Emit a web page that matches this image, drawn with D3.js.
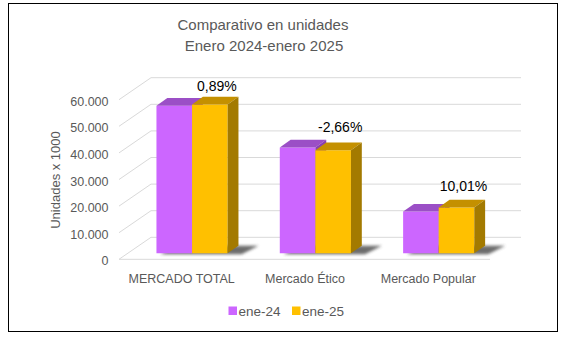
<!DOCTYPE html>
<html>
<head>
<meta charset="utf-8">
<script src="https://cdn.jsdelivr.net/npm/d3@7"></script>
<style>
  body { margin: 0; background: #fff; }
  svg { display: block; }
  text { font-family: "Liberation Sans", Arial, sans-serif; }
</style>
</head>
<body>
<svg id="chart" width="565" height="339"></svg>
<script>
// data
var categories = ["MERCADO TOTAL", "Mercado Ético", "Mercado Popular"];
var seriesNames = ["ene-24", "ene-25"];
var values2024 = [55500, 39800, 15700];
var values2025 = [56000, 38740, 17270];
var changeLabels = ["0,89%", "-2,66%", "10,01%"];
var yTicks = [0, 10000, 20000, 30000, 40000, 50000, 60000];

var colors = {
    "ene-24": { front: "#cc66ff", top: "#9b4fc6", side: "#8a40b2" },
    "ene-25": { front: "#ffc000", top: "#c49000", side: "#a37a00" }
};

var svg = d3.select("#chart");

// plot box (front plane) and 3d depth offset
var left = 120, right = 490, floorY = 259.3, topY = 99.7;
var depthX = 31, depthY = 22;
var zFront = 0.27, zBack = 0.62;
var barShift = 2;

var x0 = d3.scaleBand()
    .domain(categories)
    .range([left, right])
    .paddingInner(0.423)
    .paddingOuter(0.2115);
var x1 = d3.scaleBand()
    .domain(seriesNames)
    .range([0, x0.bandwidth()]);
var y = d3.scaleLinear()
    .domain([0, 60000])
    .range([floorY, topY]);

// project a point at depth z (0 front, 1 back)
function px(xv, z) { return xv + z * depthX; }
function py(yv, z) { return yv - z * depthY; }

var fmt = d3.format(",");
var tickFmt = function (d) { return fmt(d).replace(/,/g, "."); };

// outer border
svg.append("rect")
    .attr("x", 8.5).attr("y", 3.5)
    .attr("width", 549).attr("height", 328)
    .attr("fill", "#fff")
    .attr("stroke", "#000")
    .attr("stroke-width", 1);

// title
var title = svg.append("text")
    .attr("text-anchor", "middle")
    .attr("fill", "#595959")
    .style("font-size", "15px");
title.append("tspan").attr("x", 263).attr("y", 30).text("Comparativo en unidades");
title.append("tspan").attr("x", 264).attr("y", 51).text("Enero 2024-enero 2025");

// back wall gridlines and side wall diagonals
var grid = svg.append("g").attr("stroke", "#d9d9d9").attr("stroke-width", 1).attr("fill", "none");
grid.selectAll(".back")
    .data(yTicks)
    .enter()
    .append("line")
    .attr("x1", px(left, 1)).attr("x2", px(right, 1))
    .attr("y1", function (d) { return py(y(d), 1); })
    .attr("y2", function (d) { return py(y(d), 1); });
grid.selectAll(".side")
    .data(yTicks)
    .enter()
    .append("line")
    .attr("x1", left - 1).attr("x2", px(left, 1))
    .attr("y1", function (d) { return y(d); })
    .attr("y2", function (d) { return py(y(d), 1); });
// front floor edge
grid.append("line")
    .attr("x1", left - 1).attr("x2", right)
    .attr("y1", floorY).attr("y2", floorY);

// y tick labels
svg.append("g")
    .selectAll("text")
    .data(yTicks)
    .enter()
    .append("text")
    .attr("x", 108.5)
    .attr("y", function (d) { return y(d) + 6; })
    .attr("text-anchor", "end")
    .attr("fill", "#595959")
    .style("font-size", "12.5px")
    .text(tickFmt);

// y axis title
svg.append("text")
    .attr("transform", "translate(59.5,180) rotate(-90)")
    .attr("text-anchor", "middle")
    .attr("fill", "#595959")
    .style("font-size", "13px")
    .text("Unidades x 1000");

// category labels
svg.append("g")
    .selectAll("text")
    .data(categories)
    .enter()
    .append("text")
    .attr("x", function (d) { return x0(d) + x0.bandwidth() / 2; })
    .attr("y", 282.5)
    .attr("text-anchor", "middle")
    .attr("fill", "#595959")
    .style("font-size", "12.5px")
    .text(function (d) { return d; });

// shadow filter
var defs = svg.append("defs");
defs.append("filter").attr("id", "blur")
    .attr("x", "-20%").attr("y", "-50%").attr("width", "140%").attr("height", "200%")
    .append("feGaussianBlur").attr("stdDeviation", 1.6);

var rows = categories.map(function (c, i) {
    return { cat: c, vals: [values2024[i], values2025[i]], label: changeLabels[i] };
});

// shadows under each pair
svg.append("g")
    .selectAll("polygon")
    .data(rows)
    .enter()
    .append("polygon")
    .attr("fill", "#3a3a3a")
    .attr("opacity", 0.75)
    .attr("filter", "url(#blur)")
    .attr("points", function (d) {
        var xa = x0(d.cat) + barShift + 4, xb = x0(d.cat) + barShift + x0.bandwidth() + 14;
        var z0 = zFront, z1 = zBack;
        return [
            [px(xa, z0), py(floorY, z0) + 1],
            [px(xb, z0), py(floorY, z0) + 1],
            [px(xb + 6, z1), py(floorY, z1)],
            [px(xa + 6, z1), py(floorY, z1)]
        ].join(" ");
    });

// bars: front, top, side faces
var bars = [];
rows.forEach(function (r) {
    seriesNames.forEach(function (s, j) {
        bars.push({ cat: r.cat, series: s, value: r.vals[j] });
    });
});

var barG = svg.append("g")
    .selectAll("g")
    .data(bars)
    .enter()
    .append("g");

function xa(d) { return x0(d.cat) + x1(d.series) + barShift; }
function xb(d) { return xa(d) + x1.bandwidth(); }

barG.append("polygon")
    .attr("fill", function (d) { return colors[d.series].front; })
    .attr("points", function (d) {
        return [
            [px(xa(d), zFront), py(y(d.value), zFront)],
            [px(xb(d), zFront), py(y(d.value), zFront)],
            [px(xb(d), zFront), py(y(0), zFront)],
            [px(xa(d), zFront), py(y(0), zFront)]
        ].join(" ");
    });
barG.append("polygon")
    .attr("fill", function (d) { return colors[d.series].top; })
    .attr("points", function (d) {
        return [
            [px(xa(d), zFront), py(y(d.value), zFront)],
            [px(xb(d), zFront), py(y(d.value), zFront)],
            [px(xb(d), zBack), py(y(d.value), zBack)],
            [px(xa(d), zBack), py(y(d.value), zBack)]
        ].join(" ");
    });
barG.append("polygon")
    .attr("fill", function (d) { return colors[d.series].side; })
    .attr("points", function (d) {
        return [
            [px(xb(d), zFront), py(y(d.value), zFront)],
            [px(xb(d), zBack), py(y(d.value), zBack)],
            [px(xb(d), zBack), py(y(0), zBack)],
            [px(xb(d), zFront), py(y(0), zFront)]
        ].join(" ");
    });

// percent change labels above the ene-25 bars
var labelLift = [6, 11, 9];
svg.append("g")
    .selectAll("text")
    .data(rows)
    .enter()
    .append("text")
    .attr("x", function (d) { return px(x0(d.cat) + x1("ene-25") + x1.bandwidth() / 2 + barShift, zFront) + 7; })
    .attr("y", function (d, i) { return py(y(d.vals[1]), zBack) - labelLift[i]; })
    .attr("text-anchor", "middle")
    .attr("fill", "#000")
    .style("font-size", "14px")
    .text(function (d) { return d.label; });

// legend
var legend = svg.append("g")
    .selectAll("g")
    .data(seriesNames)
    .enter()
    .append("g")
    .attr("transform", function (d, i) { return "translate(" + (228.5 + i * 63.5) + ",306.5)"; });
legend.append("rect")
    .attr("width", 8.5).attr("height", 8.5)
    .attr("fill", function (d) { return colors[d].front; });
legend.append("text")
    .attr("x", 10)
    .attr("y", 9)
    .attr("fill", "#595959")
    .style("font-size", "13.5px")
    .text(function (d) { return d; });
</script>
</body>
</html>
